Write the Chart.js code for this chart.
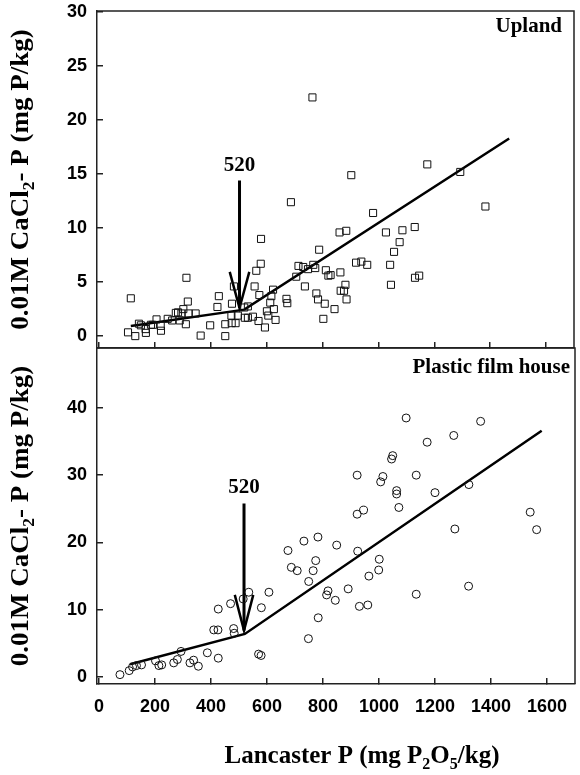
<!DOCTYPE html>
<html>
<head>
<meta charset="utf-8">
<script src="https://cdn.jsdelivr.net/npm/chart.js@4.4.1/dist/chart.umd.min.js"></script>
<style>
  html, body { margin: 0; padding: 0; background: #fff; }
  #wrap { position: relative; width: 580px; height: 775px; }
  #wrap canvas { position: absolute; left: 0; top: 0; }
</style>
</head>
<body>
<div id="wrap">
  <canvas id="uplandChart" width="580" height="775"></canvas>
  <canvas id="houseChart" width="580" height="775"></canvas>
</div>
<script>
// tick labels
const xTicks = [0, 200, 400, 600, 800, 1000, 1200, 1400, 1600];
const yTicksUpland = [0, 5, 10, 15, 20, 25, 30];
const yTicksHouse = [0, 10, 20, 30, 40];

// Upland: Lancaster P vs CaCl2-P
const uplandLancaster = [104, 114, 130, 143, 150, 167, 168, 186, 193, 206, 221, 222, 246, 262, 275, 283, 289, 295, 302, 311,
  313, 318, 321, 346, 364, 398, 424, 429, 452, 452, 474, 475, 476, 483, 489, 497, 520, 522, 533, 533,
  551, 557, 563, 571, 574, 579, 580, 594, 601, 606, 613, 617, 623, 626, 632, 671, 674, 687, 706, 714,
  731, 737, 748, 764, 767, 774, 778, 784, 788, 803, 808, 812, 821, 829, 843, 861, 864, 865, 877, 882,
  885, 886, 903, 920, 939, 960, 981, 1027, 1042, 1045, 1056, 1076, 1086, 1130, 1131, 1146, 1175, 1293, 1383];
const uplandCaCl2 = [0.35, 3.5, 0.0, 1.15, 1.0, 0.65, 0.3, 1.05, 1.05, 1.55, 0.95, 0.5, 1.6, 1.45, 2.15, 2.2, 1.45, 2.1, 2.5, 1.1,
  5.4, 3.2, 2.1, 2.1, 0.05, 1.0, 2.7, 3.7, 1.1, 0.0, 1.9, 1.2, 3.0, 4.6, 1.2, 1.9, 2.65, 1.7, 2.75, 1.7,
  1.8, 4.6, 6.05, 1.4, 3.8, 6.7, 9.0, 0.8, 2.3, 1.9, 3.1, 3.7, 4.3, 2.5, 1.5, 3.45, 3.05, 12.4, 5.5, 6.5,
  6.4, 4.6, 6.2, 22.1, 6.6, 6.3, 3.95, 3.4, 8.0, 1.6, 3.0, 6.1, 5.6, 5.65, 2.5, 9.6, 5.9, 4.2, 4.2, 4.75,
  9.75, 3.4, 14.9, 6.8, 6.9, 6.6, 11.4, 9.6, 6.6, 4.75, 7.8, 8.7, 9.8, 10.1, 5.4, 5.6, 15.9, 15.2, 12.0];
const uplandFitX = [114, 520, 1468];
const uplandFitY = [0.93, 2.45, 18.3];

// Plastic film house
const houseLancaster = [75, 108, 120, 134, 152, 202, 214, 224, 267, 280, 293, 325, 338, 355, 387, 410, 425, 426, 426, 470,
  481, 483, 515, 535, 570, 579, 580, 607, 675, 687, 708, 732, 748, 749, 765, 774, 782, 783, 813, 818,
  844, 849, 890, 922, 922, 924, 930, 945, 960, 964, 999, 1001, 1006, 1014, 1045, 1049, 1063, 1063, 1071, 1097,
  1133, 1133, 1172, 1200, 1267, 1271, 1320, 1321, 1363, 1540, 1563];
const houseCaCl2 = [0.35, 0.95, 1.5, 1.7, 1.8, 2.4, 1.7, 1.8, 2.1, 2.6, 3.8, 2.1, 2.5, 1.6, 3.6, 7.0, 7.0, 2.8, 10.1, 10.9,
  7.2, 6.5, 11.6, 12.6, 3.4, 3.2, 10.3, 12.6, 18.8, 16.3, 15.8, 20.2, 5.7, 14.2, 15.8, 17.3, 20.8, 8.8, 12.2, 12.8,
  11.4, 19.6, 13.1, 24.2, 30.0, 18.7, 10.5, 24.8, 10.7, 15.0, 15.9, 17.5, 29.0, 29.8, 32.4, 32.9, 27.2, 27.7, 25.2, 38.5,
  30.0, 12.3, 34.9, 27.4, 35.9, 22.0, 13.5, 28.6, 38.0, 24.5, 21.9];
const houseFitX = [111, 521, 1581];
const houseFitY = [1.9, 6.4, 36.6];

// change point arrows: shaft top, tip, head half width (x units), head y, label y
const uplandArrow = { x: 503, top: 14.4, tip: 2.6, headDx: 35, headY: 5.95, labelY: 15.8, label: "520" };
const houseArrow = { x: 518, top: 25.8, tip: 6.9, headDx: 33, headY: 12.2, labelY: 28.2, label: "520" };

const serif = '"Liberation Serif", "Times New Roman", serif';
const sans = '"Liberation Sans", Arial, sans-serif';

function pts(xs, ys) {
  return xs.map((x, i) => ({ x: x, y: ys[i] }));
}

function arrowSets(a) {
  return [
    { data: [{ x: a.x, y: a.top }, { x: a.x, y: a.tip }], showLine: true, borderColor: "#000", borderWidth: 3, pointRadius: 0 },
    { data: [{ x: a.x - a.headDx, y: a.headY }, { x: a.x, y: a.tip }, { x: a.x + a.headDx, y: a.headY }],
      showLine: true, borderColor: "#000", borderWidth: 2.5, pointRadius: 0 },
  ];
}

// text with subscripts, centred on (cx, cy); stretch widens it along its length
function drawRich(ctx, parts, size, cx, cy, rotate, stretch) {
  const big = "bold " + size + "px " + serif;
  const small = "bold " + Math.round(size * 0.62) + "px " + serif;
  ctx.save();
  ctx.translate(cx, cy);
  if (rotate) ctx.rotate(-Math.PI / 2);
  ctx.scale(stretch || 1, 1);
  ctx.fillStyle = "#000";
  ctx.textBaseline = "middle";
  ctx.textAlign = "left";
  let total = 0;
  parts.forEach(p => { ctx.font = p[1] ? small : big; total += ctx.measureText(p[0]).width; });
  let x = -total / 2;
  parts.forEach(p => {
    ctx.font = p[1] ? small : big;
    ctx.fillText(p[0], x, p[1] ? size * 0.32 : 0);
    x += ctx.measureText(p[0]).width;
  });
  ctx.restore();
}

const yTitleParts = [["0.01M CaCl", false], ["2", true], ["- P (mg P/kg)", false]];
const xTitleParts = [["Lancaster P (mg P", false], ["2", true], ["O", false], ["5", true], ["/kg)", false]];

function decor(panelLabel, arrow, showXTitle) {
  return {
    id: "decor",
    afterDraw(chart) {
      const ctx = chart.ctx;
      const a = chart.chartArea;
      const xs = chart.scales.x, ys = chart.scales.y;
      ctx.save();
      ctx.strokeStyle = "#222";
      ctx.lineWidth = 1.5;
      ctx.beginPath();
      ctx.moveTo(a.left, a.top);
      ctx.lineTo(a.right, a.top);
      ctx.lineTo(a.right, a.bottom);
      ctx.stroke();
      ctx.fillStyle = "#000";
      ctx.font = "bold 21px " + serif;
      ctx.textAlign = "right";
      ctx.textBaseline = "middle";
      ctx.fillText(panelLabel.text, panelLabel.right, a.top + panelLabel.dy);
      ctx.textAlign = "center";
      ctx.fillText(arrow.label, xs.getPixelForValue(arrow.x), ys.getPixelForValue(arrow.labelY));
      ctx.restore();
      drawRich(ctx, yTitleParts, 25, 22, (a.top + a.bottom) / 2, true, 1.08);
      if (showXTitle) drawRich(ctx, xTitleParts, 25, 362, 757, false, 1);
    }
  };
}

function noPad(axis) {
  axis.paddingTop = 0;
  axis.paddingBottom = 0;
  axis.paddingLeft = 0;
  axis.paddingRight = 0;
}

function makeChart(id, cfg) {
  const yAxis = {
    type: "linear",
    min: cfg.yMin,
    max: cfg.yMax,
    afterBuildTicks: axis => { axis.ticks = cfg.yTicks.map(v => ({ value: v })); },
    afterFit: axis => { axis.width = 97; noPad(axis); },
    grid: { drawOnChartArea: false, tickLength: -6, color: "#222", lineWidth: 1.5 },
    border: { color: "#222", width: 1.5 },
    ticks: { color: "#000", padding: 16, callback: v => String(v), font: { family: sans, size: 18, weight: "bold" } },
  };
  const xAxis = {
    type: "linear",
    min: -7,
    max: 1700,
    afterBuildTicks: axis => { axis.ticks = xTicks.map(v => ({ value: v })); },
    afterFit: axis => { axis.height = cfg.xHeight; noPad(axis); },
    grid: { drawOnChartArea: false, tickLength: -6, color: "#222", lineWidth: 1.5 },
    border: { color: "#222", width: 1.5 },
    ticks: { display: cfg.xLabels, color: "#000", padding: 18, maxRotation: 0, autoSkip: false,
      callback: v => String(v), font: { family: sans, size: 18, weight: "bold" } },
  };
  return new Chart(document.getElementById(id), {
    type: "scatter",
    data: {
      datasets: [
        { data: pts(cfg.xs, cfg.ys), pointStyle: cfg.marker, pointRadius: cfg.radius, borderColor: "#111",
          borderWidth: 1, backgroundColor: "rgba(0,0,0,0)" },
        { data: pts(cfg.fitX, cfg.fitY), showLine: true, borderColor: "#000", borderWidth: 2.5, pointRadius: 0 },
        ...arrowSets(cfg.arrow),
      ],
    },
    options: {
      responsive: false,
      animation: false,
      devicePixelRatio: 1,
      layout: { padding: { top: cfg.top, right: 3, left: 0, bottom: 0 } },
      plugins: { legend: { display: false }, tooltip: { enabled: false } },
      scales: { x: xAxis, y: yAxis },
    },
    plugins: [decor(cfg.label, cfg.arrow, cfg.xLabels)],
  });
}

makeChart("uplandChart", {
  xs: uplandLancaster, ys: uplandCaCl2, fitX: uplandFitX, fitY: uplandFitY, arrow: uplandArrow,
  marker: "rect", radius: 5, yMin: -1.1, yMax: 30.1, yTicks: yTicksUpland,
  top: 11, xHeight: 775 - 348, xLabels: false,
  label: { text: "Upland", right: 562, dy: 16 },
});

makeChart("houseChart", {
  xs: houseLancaster, ys: houseCaCl2, fitX: houseFitX, fitY: houseFitY, arrow: houseArrow,
  marker: "circle", radius: 4, yMin: -1.04, yMax: 48.9, yTicks: yTicksHouse,
  top: 348, xHeight: 775 - 684, xLabels: true,
  label: { text: "Plastic film house", right: 570, dy: 20 },
});
</script>
</body>
</html>
